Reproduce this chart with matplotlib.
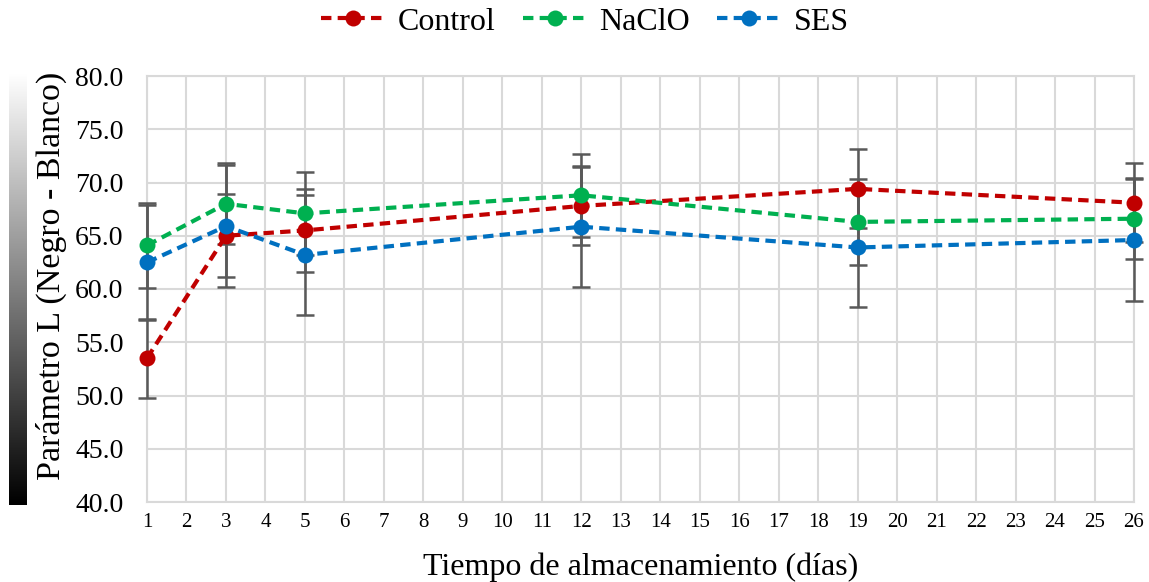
import numpy as np
import matplotlib
matplotlib.use("Agg")
import matplotlib.pyplot as plt

plt.rcParams['font.family'] = ['Liberation Serif', 'DejaVu Serif']

# Storage days and mean L values with standard deviations
days = [1, 3, 5, 12, 19, 26]
series_names = ["Control", "NaClO", "SES"]
control = [53.5, 65.0, 65.5, 67.8, 69.4, 68.1]
naclo = [64.1, 68.0, 67.1, 68.8, 66.3, 66.6]
ses = [62.5, 65.9, 63.2, 65.85, 63.9, 64.6]
control_sd = [3.7, 3.9, 3.9, 3.7, 3.7, 3.7]
naclo_sd = [4.0, 3.8, 3.9, 3.9, 4.0, 3.8]
ses_sd = [5.4, 5.7, 5.6, 5.7, 5.6, 5.7]
colors = ["#C00000", "#00B050", "#0070C0"]
x_ticks = list(range(1, 27))
y_ticks = [40, 45, 50, 55, 60, 65, 70, 75, 80]

W, H = 1149, 582
fig = plt.figure(figsize=(W / 100, H / 100), dpi=100)
ax = fig.add_axes([147 / W, 1 - 502 / H, (1134 - 147) / W, (502 - 76) / H])

grid_c = "#D9D9D9"
ax.set_xlim(1, 26)
ax.set_ylim(40, 80)
ax.set_xticks(x_ticks)
ax.set_yticks(y_ticks)
ax.set_yticklabels([f"{v:.1f}" for v in y_ticks], fontsize=20)
ax.set_xticklabels([str(v) for v in x_ticks], fontsize=15)
ax.tick_params(axis='y', length=0, pad=17)
ax.tick_params(axis='x', length=0, pad=8)
ax.grid(True, color=grid_c, linewidth=1.5)
ax.set_axisbelow(True)
for s in ax.spines.values():
    s.set_color(grid_c)
    s.set_linewidth(1.5)

all_vals = [control, naclo, ses]
all_sd = [control_sd, naclo_sd, ses_sd]

# error bars underneath the series, above the frame
for vals, sd in zip(all_vals, all_sd):
    ax.errorbar(days, vals, yerr=sd, fmt='none', ecolor="#595959",
                elinewidth=1.8, capsize=6.5, capthick=1.8, zorder=2.7,
                clip_on=False)

handles = []
for name, vals, c in zip(series_names, all_vals, colors):
    ln, = ax.plot(days, vals, color=c, linewidth=3, linestyle=(0, (2.5, 1.5)),
                  marker='o', markersize=11.5, markeredgewidth=0,
                  label=name, zorder=3, clip_on=False)
    handles.append(ln)

fig.legend(handles=handles, loc='center', bbox_to_anchor=(585 / W, 1 - 22 / H),
           ncol=3, frameon=False, fontsize=23, handlelength=2.0,
           handletextpad=0.4, columnspacing=0.85, borderpad=0)

fig.text(51 / W, 1 - 276 / H, "Parámetro L (Negro - Blanco)", rotation=90,
         ha='center', va='center', fontsize=24.5)
fig.text(641 / W, 1 - 567 / H, "Tiempo de almacenamiento (días)",
         ha='center', va='center', fontsize=23)

# white-to-black lightness scale on the left
gax = fig.add_axes([9 / W, 1 - 505 / H, 18 / W, (505 - 73) / H])
grad = np.linspace(1, 0, 256).reshape(-1, 1)
gax.imshow(grad, aspect='auto', cmap='gray', vmin=0, vmax=1)
gax.set_axis_off()

fig.savefig("out.png", dpi=100)
